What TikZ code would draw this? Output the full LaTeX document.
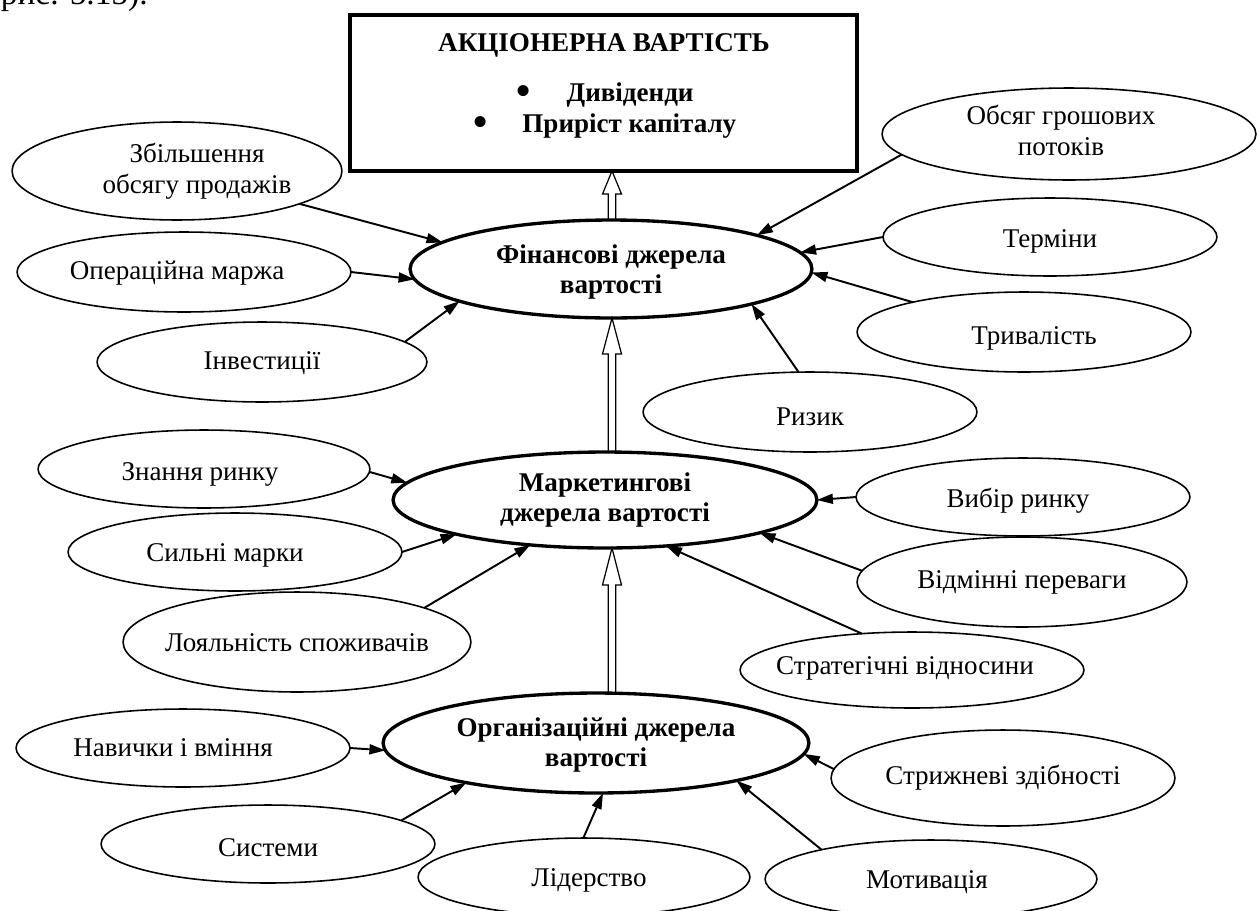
\documentclass[tikz,border=0pt]{standalone}
\usepackage{fontspec}
\setmainfont{Liberation Serif}
\usetikzlibrary{shapes.geometric,arrows.meta,calc}
\newcommand\fsz{\fontsize{15.4}{17.6}\selectfont}
\newcommand\blockarr[3]{%
  \draw[blk] ($(#1)+(-3.8,0)$) -- ($(#2)+(-3.8,#3)$) -- ($(#2)+(-9.5,#3)$) -- (#2)
     -- ($(#2)+(9.5,#3)$) -- ($(#2)+(3.8,#3)$) -- ($(#1)+(3.8,0)$);}
\newcommand\bul{\raisebox{-0.25ex}{\scalebox{1.5}{•}}}
\begin{document}
\begin{tikzpicture}[x=0.02cm,y=-0.02cm,
  el/.style 2 args={ellipse,draw,line width=0.9pt,minimum width=#1*0.04cm,minimum height=#2*0.04cm,inner sep=0pt,outer sep=0pt},
  mainel/.style 2 args={el={#1}{#2},line width=1.9pt},
  lab/.style={font=\fsz,align=center,inner sep=0pt},
  blab/.style={font=\fsz\bfseries,align=center,inner sep=0pt},
  con/.style={line width=1.1pt,-{Triangle[length=0.32cm,width=0.2cm]}},
  blk/.style={line width=0.7pt,line join=miter}
]
\useasboundingbox (0,0) rectangle (1257,910);

% caption fragment
\node[font=\fontsize{19}{22}\selectfont,anchor=base east,inner sep=0pt] (cap) at (148,4) {рис. 5.15).};

% top box
\node[draw,line width=1.9pt,minimum width=507*0.02cm,minimum height=156*0.02cm,inner sep=0pt,outer sep=0pt] (box) at (603.5,93) {};
\node[blab,anchor=base] (t0) at (604,51) {АКЦІОНЕРНА ВАРТІСТЬ};
\node[blab,anchor=base] (t1) at (605,101) {\bul\hspace{0.72cm}Дивіденди};
\node[blab,anchor=base] (t2) at (605,132) {\bul\hspace{0.69cm}Приріст капіталу};

% main ellipses
\node[mainel={201}{49}] (F) at (611,269) {};
\node[blab] at ($(F)+(0,3)$) {Фінансові джерела\\вартості};
\node[mainel={212}{48}] (M) at (605,500) {};
\node[blab] at ($(M)+(0,0)$) {Маркетингові\\джерела вартості};
\node[mainel={213}{50}] (Og) at (596,743) {};
\node[blab] at ($(Og)+(0,2)$) {Організаційні джерела\\вартості};

% factor ellipses
\node[el={165}{49}] (Z) at (177,171) {};
\node[lab] at ($(Z)+(20,0)$) {Збільшення\\обсягу продажів};
\node[el={167}{40}] (O) at (184,272) {};
\node[lab] at ($(O)+(-7,1)$) {Операційна маржа};
\node[el={165}{40}] (I) at (262,362) {};
\node[lab] at ($(I)+(0,1)$) {Інвестиції};
\node[el={166}{39}] (K) at (204,469) {};
\node[lab] at ($(K)+(-4,5)$) {Знання ринку};
\node[el={167}{39}] (S) at (235,552) {};
\node[lab] at ($(S)+(-10,3)$) {Сильні марки};
\node[el={174}{50}] (L) at (297,642) {};
\node[lab] at ($(L)+(0,1)$) {Лояльність споживачів};
\node[el={167}{39}] (N) at (183,748) {};
\node[lab] at ($(N)+(-10,0)$) {Навички і вміння};
\node[el={167}{39}] (Sy) at (268,844) {};
\node[lab] at ($(Sy)+(0,4)$) {Системи};
\node[el={166}{39}] (Ld) at (584,877) {};
\node[lab] at ($(Ld)+(5,3)$) {Лідерство};
\node[el={166}{39}] (Mt) at (931,879) {};
\node[lab] at ($(Mt)+(-4,3)$) {Мотивація};
\node[el={172}{48}] (C) at (1003,778) {};
\node[lab] at ($(C)+(0,0)$) {Стрижневі здібності};
\node[el={172}{38}] (X) at (912,670) {};
\node[lab] at ($(X)+(-7,-2)$) {Стратегічні відносини};
\node[el={165}{45}] (D) at (1022,582) {};
\node[lab] at (D) {Відмінні переваги};
\node[el={167}{39}] (B) at (1023,497) {};
\node[lab] at ($(B)+(-5,4)$) {Вибір ринку};
\node[el={167}{40}] (R) at (810,412) {};
\node[lab] at ($(R)+(0,5)$) {Ризик};
\node[el={187}{46}] (G) at (1069,134) {};
\node[lab] at ($(G)+(-8,-4)$) {Обсяг грошових\\потоків};
\node[el={167}{39}] (T) at (1050,237) {};
\node[lab] at ($(T)+(0,4)$) {Терміни};
\node[el={167}{40}] (V) at (1024,332) {};
\node[lab] at ($(V)+(10,6)$) {Тривалість};

% connectors
\draw[con] (Z.-15.8) -- (F.171.2);
\draw[con] (O.0) -- (F.-177.4);
\draw[con] (I.8.1) -- (F.-168);
\draw[con] (G.187.9) -- (F.13.8);
\draw[con] (T.180) -- (F.5.4);
\draw[con] (V.165.6) -- (F.-1.7);
\draw[con] (R.106.7) -- (F.-14.4);
\draw[con] (K.-1) -- (M.175);
\draw[con] (S.0) -- (M.-167.8);
\draw[con] (L.15.9) -- (M.-149.7);
\draw[con] (B.180) -- (M.-0.5);
\draw[con] (D.176.5) -- (M.-12.9);
\draw[con] (X.144) -- (M.-37.9);
\draw[con] (N.0) -- (Og.-178.7);
\draw[con] (Sy.10.2) -- (Og.-163.2);
\draw[con] (Ld.91.5) -- (Og.-82.3);
\draw[con] (Mt.165.7) -- (Og.-15.8);
\draw[con] (C.177.4) -- (Og.-3.9);

% block arrows
\coordinate (ax) at (612,0);
\coordinate (b1s) at (F.north -| ax);
\coordinate (b1t) at (box.south -| ax);
\coordinate (b2s) at (M.north -| ax);
\coordinate (b2t) at (F.south -| ax);
\coordinate (b3s) at (Og.north -| ax);
\coordinate (b3t) at (M.south -| ax);
\blockarr{b1s}{b1t}{23}
\blockarr{b2s}{b2t}{36}
\blockarr{b3s}{b3t}{37}
\end{tikzpicture}
\end{document}
